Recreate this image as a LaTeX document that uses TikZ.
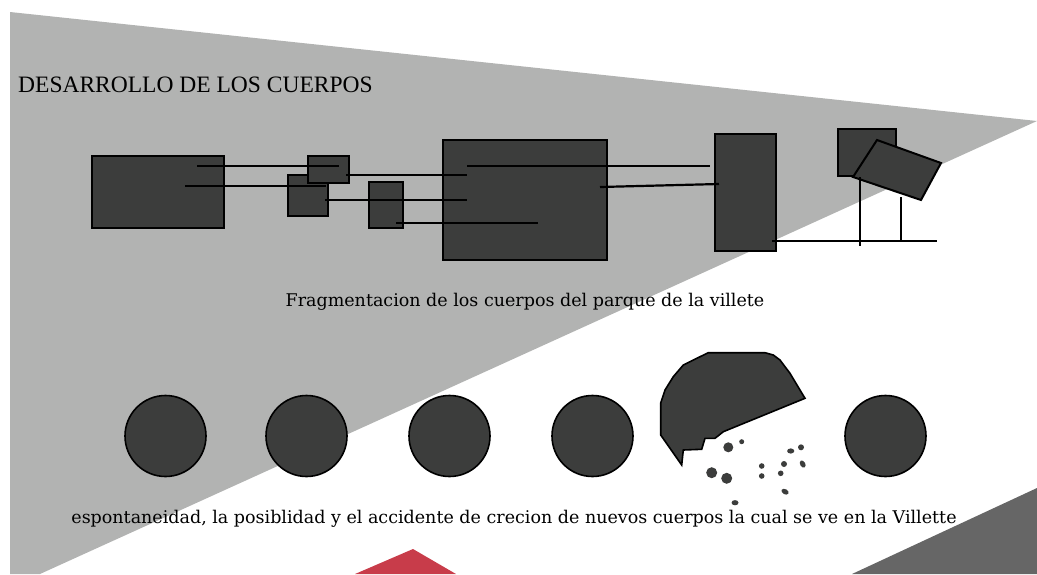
\documentclass[tikz,border=0pt]{standalone}
\usepackage{fontspec}
\newfontfamily\titlefont{Liberation Serif}
\newfontfamily\capfont{DejaVu Serif}
\usetikzlibrary{positioning}

\definecolor{plano}{HTML}{B2B3B2}
\definecolor{cuerpo}{HTML}{3C3D3C}
\definecolor{sombra}{HTML}{666666}
\definecolor{rojo}{HTML}{C83C4A}

\tikzset{
    body/.style={draw=black, fill=cuerpo, line width=2pt},
    hilo/.style={draw=black, line width=1.7pt},
    grano/.style={fill=cuerpo},
    leyenda/.style={font=\capfont\fontsize{17.5}{20}\selectfont, anchor=base, inner sep=0pt}
}

\begin{document}
\begin{tikzpicture}[x=1pt, y=-1pt]
    \useasboundingbox (0,0) rectangle (1037,574);

    \fill[plano] (10,12) -- (1037,121) -- (40,574) -- (10,574) -- cycle;
    \fill[sombra] (1037,488) -- (1037,574) -- (852,574) -- cycle;
    \fill[rojo] (413,549) -- (456,574) -- (355,574) -- cycle;

    \node[font=\titlefont\fontsize{23.5}{26}\selectfont, anchor=base west, inner sep=0pt] (titulo) at (18,92) {DESARROLLO DE LOS CUERPOS};

    \draw[body] (92,156) rectangle (224,228);
    \draw[body] (288,175) rectangle (328,216);
    \draw[body] (308,156) rectangle (349,183);
    \draw[body] (369,182) rectangle (403,228);
    \draw[body] (443,140) rectangle (607,260);
    \draw[body] (715,134) rectangle (776,251);
    \draw[body] (838,129) rectangle (896,176);
    \draw[body] (877,140) -- (941,163) -- (921,200) -- (853,177) -- cycle;

    \draw[hilo] (197,166) -- (339,166);
    \draw[hilo] (185,186) -- (326,186);
    \draw[hilo] (346,175) -- (467,175);
    \draw[hilo] (325,200) -- (467,200);
    \draw[hilo] (396,223) -- (538,223);
    \draw[hilo, line width=2.2pt] (467,166) -- (710,166);
    \draw[hilo, line width=2.2pt] (600,187) -- (719,184);
    \draw[hilo, line width=2.2pt] (772,241) -- (937,241);
    \draw[hilo, line width=2.2pt] (860,177) -- (860,246);
    \draw[hilo, line width=2.2pt] (901,197) -- (901,241);

    \node[leyenda] (frag) at (525,306) {Fragmentacion de los cuerpos del parque de la villete};

    \foreach \cx in {165.5, 306.5, 449.5, 592.5, 885.5}
        \draw[body, line width=1.6pt] (\cx,436) circle (40.5);

    \draw[body, line width=1.6pt] (660.7,403) -- (660.7,435) -- (681.7,465) -- (683.3,450) -- (701.7,449.3)
        -- (705,438.3) -- (715,438.3) -- (723.3,431.7) -- (805,398.3) -- (800,390) -- (795,381.7)
        -- (790,373.3) -- (785,366.7) -- (780,360) -- (773.3,355) -- (765,352.7) -- (708.3,352.7)
        -- (693.3,360) -- (683.3,365) -- (673.3,376.7) -- (665,390) -- cycle;

    \fill[grano] (728.3,447.3) circle (5);
    \fill[grano] (741.7,441.7) circle (2.5);
    \fill[grano] (711.7,472.7) circle (5.5);
    \fill[grano] (726.7,478.3) circle (5.5);
    \fill[grano] (735,502.7) ellipse (3.5 and 2.6);
    \fill[grano] (761.7,466) circle (2.8);
    \fill[grano] (761.7,476) circle (2.8);
    \fill[grano] (784,464) circle (3);
    \fill[grano] (780.7,473.3) circle (2.8);
    \fill[grano] (790.7,451) ellipse (3.6 and 2.6);
    \fill[grano] (801,447.3) circle (3);
    \fill[grano, rotate around={-60:(802.7,464)}] (802.7,464) ellipse (3.8 and 2.6);
    \fill[grano, rotate around={-30:(785,491.7)}] (785,491.7) ellipse (3.8 and 2.6);

    \node[leyenda] (crecion) at (514,523) {espontaneidad, la posiblidad y el accidente de crecion de nuevos cuerpos la cual se ve en la Villette};

\end{tikzpicture}
\end{document}
